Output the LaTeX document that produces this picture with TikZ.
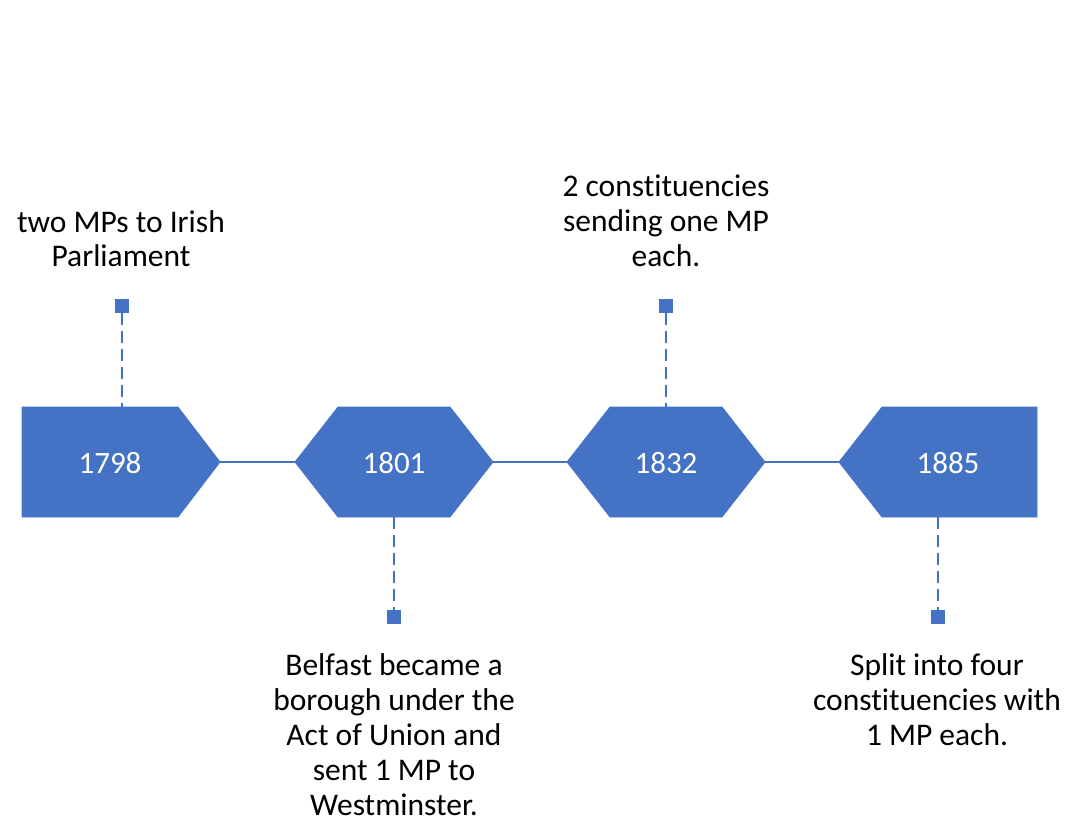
\documentclass[tikz,border=0pt]{standalone}
\usepackage{fontspec}
\setmainfont{Carlito}[RawFeature=-liga]
\definecolor{obl}{HTML}{4472C4}
\begin{document}
\begin{tikzpicture}[x=1pt,y=-1pt,
  shp/.style={fill=obl,draw=obl,line width=0.8pt},
  yr/.style={text=white,font=\fontsize{31}{34}\selectfont,inner sep=0pt,anchor=base},
  lbl/.style={text=black,font=\fontsize{31.5}{35}\selectfont,align=center,inner sep=0pt,anchor=base},
  sq/.style={fill=obl,draw=none,minimum size=14pt,inner sep=0pt},
  conn/.style={draw=obl,line width=2.2pt},
  dsh/.style={draw=obl,line width=2.6pt,dash pattern=on 12pt off 6pt}]
\useasboundingbox (0,0) rectangle (1066,821);
% shapes
\path[shp] (22,407) -- (178,407) -- (220,462) -- (178,517) -- (22,517) -- cycle;
\path[shp] (295,462) -- (338,407) -- (450,407) -- (493,462) -- (450,517) -- (338,517) -- cycle;
\path[shp] (567,462) -- (610,407) -- (722,407) -- (765,462) -- (722,517) -- (610,517) -- cycle;
\path[shp] (839,462) -- (882,407) -- (1037,407) -- (1037,517) -- (882,517) -- cycle;
% shape coordinates
\coordinate (s1r) at (220,462);
\coordinate (s2l) at (295,462);
\coordinate (s2r) at (493,462);
\coordinate (s3l) at (567,462);
\coordinate (s3r) at (765,462);
\coordinate (s4l) at (839,462);
\coordinate (s1t) at (122,407);
\coordinate (s2b) at (394,517);
\coordinate (s3t) at (666,407);
\coordinate (s4b) at (938,517);
% years
\node[yr] (y1) at (110,473) {1798};
\node[yr] (y2) at (394,473) {1801};
\node[yr] (y3) at (666,473) {1832};
\node[yr] (y4) at (948,473) {1885};
% connectors
\draw[conn] (s1r) -- (s2l);
\draw[conn] (s2r) -- (s3l);
\draw[conn] (s3r) -- (s4l);
% squares
\node[sq] (q1) at (122,306) {};
\node[sq] (q2) at (394,617) {};
\node[sq] (q3) at (666,306) {};
\node[sq] (q4) at (938,617) {};
\draw[dsh] (q1.south) -- (s1t);
\draw[dsh] (s2b) -- (q2.north);
\draw[dsh] (q3.south) -- (s3t);
\draw[dsh] (s4b) -- (q4.north);
% labels (anchor=base refers to the last line)
\node[lbl] (l1) at (121,267) {two MPs to Irish\\Parliament};
\node[lbl] (l2) at (394,815) {Belfast became a\\borough under the\\Act of Union and\\sent 1 MP to\\Westminster.};
\node[lbl] (l3) at (666,266) {2 constituencies\\sending one MP\\each.};
\node[lbl] (l4) at (937,745) {Split into four\\constituencies with\\1 MP each.};
\end{tikzpicture}
\end{document}
